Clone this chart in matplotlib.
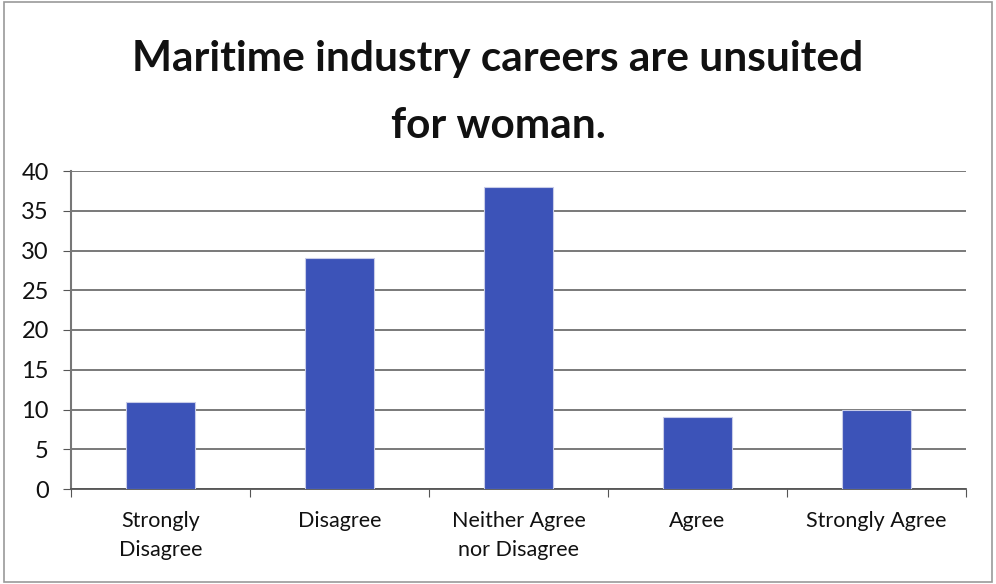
import matplotlib.pyplot as plt
import numpy as np
from matplotlib.patches import Rectangle

categories = ["Strongly\nDisagree", "Disagree", "Neither Agree\nnor Disagree", "Agree", "Strongly Agree"]
responses = [11, 29, 38, 9, 10]
yticks = [0, 5, 10, 15, 20, 25, 30, 35, 40]
title_lines = ["Maritime industry careers are unsuited", "for woman."]

plt.rcParams["font.family"] = ["Lato", "DejaVu Sans"]

fig = plt.figure(figsize=(9.96, 5.84), dpi=100)
ax = fig.add_axes([71 / 996, 1 - 489 / 584, 895 / 996, 318 / 584])

x = np.arange(len(categories))
ax.bar(x, responses, width=0.39, color="#3c53b8", edgecolor="#c8cce8", linewidth=0.8, zorder=3)

ax.set_xlim(-0.5, len(categories) - 0.5)
ax.set_ylim(0, 40)
ax.set_yticks(yticks)
ax.set_yticklabels([str(t) for t in yticks], fontsize=17, color="#111111")
ax.yaxis.grid(True, color="#555555", linewidth=1.1, zorder=0)

# category labels sit between boundary ticks
ax.set_xticks(np.arange(len(categories) + 1) - 0.5)
ax.set_xticklabels([])
ax.set_xticks(x, minor=True)
ax.set_xticklabels(categories, minor=True, fontsize=15.5, color="#111111", linespacing=1.55)
ax.tick_params(axis="x", which="minor", length=0, pad=16)
ax.tick_params(axis="x", which="major", length=6, color="#555555", direction="out")
ax.tick_params(axis="y", length=6, color="#555555", direction="out", pad=10)

for side in ["top", "right"]:
    ax.spines[side].set_visible(False)
ax.spines["left"].set_color("#777777")
ax.spines["left"].set_linewidth(1.5)
ax.spines["bottom"].set_color("#555555")
ax.spines["bottom"].set_linewidth(1.3)

for i, line in enumerate(title_lines):
    fig.text(0.5, 1 - (59 + 67 * i) / 584, line, ha="center", va="center",
             fontsize=30.5, fontweight="bold", color="#111111")

fig.patches.append(Rectangle((0.004, 0.004), 0.992, 0.992, transform=fig.transFigure,
                             fill=False, edgecolor="#999999", linewidth=1.2))

fig.savefig("out.png", dpi=100, facecolor="white")
